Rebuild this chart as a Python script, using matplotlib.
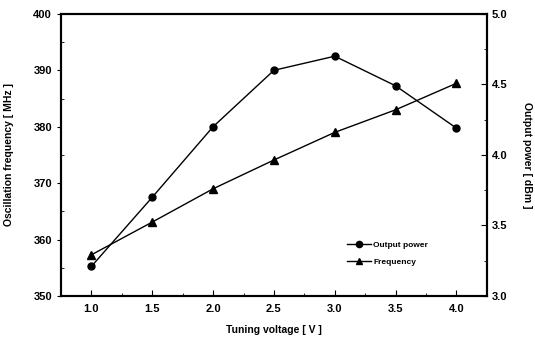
import matplotlib
matplotlib.use('Agg')
import matplotlib.pyplot as plt
from matplotlib.ticker import MultipleLocator

plt.rcParams['font.family'] = ['Liberation Sans', 'DejaVu Sans']
plt.rcParams['font.weight'] = 'bold'

voltage = [1.0, 1.5, 2.0, 2.5, 3.0, 3.5, 4.0]
power = [3.21, 3.70, 4.20, 4.60, 4.70, 4.49, 4.19]
freq = [357.3, 363.1, 369.0, 374.1, 379.0, 383.0, 387.7]

fig = plt.figure(figsize=(5.35, 3.47), dpi=100)
ax = fig.add_axes([0.114, 0.147, 0.796, 0.813])
ax2 = ax.twinx()

l2, = ax2.plot(voltage, power, 'k-', marker='o', markersize=5, linewidth=1, label='Output power')
l1, = ax.plot(voltage, freq, 'k-', marker='^', markersize=5.5, linewidth=1, label='Frequency')

ax.set_xlim(0.75, 4.25)
ax.set_ylim(350, 400)
ax2.set_ylim(3.0, 5.0)

ax.xaxis.set_major_locator(MultipleLocator(0.5))
ax.xaxis.set_minor_locator(MultipleLocator(0.25))
ax.yaxis.set_major_locator(MultipleLocator(10))
ax.yaxis.set_minor_locator(MultipleLocator(5))
ax2.yaxis.set_major_locator(MultipleLocator(0.5))
ax2.yaxis.set_minor_locator(MultipleLocator(0.25))
ax.xaxis.set_major_formatter(plt.FormatStrFormatter('%.1f'))
ax2.yaxis.set_major_formatter(plt.FormatStrFormatter('%.1f'))

ax.tick_params(axis='x', which='both', direction='in', labelsize=8, pad=6)
ax.tick_params(axis='x', which='major', length=4)
ax.tick_params(axis='x', which='minor', length=2)
ax.tick_params(axis='y', which='major', direction='out', length=3, labelsize=8)
ax.tick_params(axis='y', which='minor', direction='in', length=2)
ax2.tick_params(axis='y', which='major', direction='in', length=4, labelsize=8)
ax2.tick_params(axis='y', which='minor', direction='in', length=2)

for a in (ax, ax2):
    for s in a.spines.values():
        s.set_linewidth(1.5)

ax.set_xlabel('Tuning voltage [ V ]', fontsize=7.5, fontweight='bold', labelpad=8)
ax.set_ylabel('Oscillation frequency [ MHz ]', fontsize=7.5, fontweight='bold', labelpad=14)
ax2.set_ylabel('Output power [ dBm ]', fontsize=7.5, fontweight='bold', rotation=-90, labelpad=18)

leg = ax.legend([l2, l1], ['Output power', 'Frequency'], loc='upper left',
                bbox_to_anchor=(0.672, 0.193), frameon=False, fontsize=6,
                handlelength=2.8, labelspacing=1.1, handletextpad=0.3,
                borderpad=0, borderaxespad=0, markerscale=0.9)

fig.savefig('out.png', dpi=100)
